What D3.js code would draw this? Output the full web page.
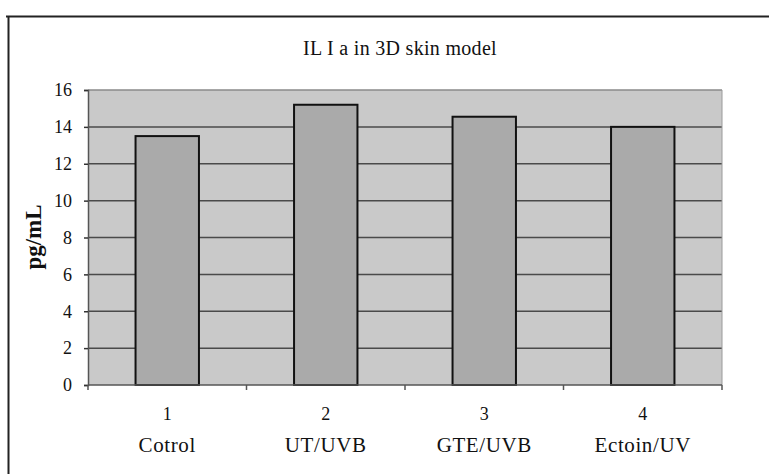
<!DOCTYPE html>
<html>
<head>
<meta charset="utf-8">
<script src="https://cdn.jsdelivr.net/npm/d3@7"></script>
<style>
  body { margin: 0; background: #fff; }
  svg text { font-family: "Liberation Serif", "Times New Roman", serif; fill: #111; }
</style>
</head>
<body>
<script>
// chart values
var groups = ["1", "2", "3", "4"];
var groupNames = ["Cotrol", "UT/UVB", "GTE/UVB", "Ectoin/UV"];
var values = [13.5, 15.2, 14.55, 14.0];
var yTicks = [0, 2, 4, 6, 8, 10, 12, 14, 16];

var width = 769, height = 475;
var plot = {left: 88, right: 722, top: 90, bottom: 385};

var svg = d3.select("body").append("svg")
    .attr("width", width)
    .attr("height", height);

// outer frame (top and left edges only show)
svg.append("line")
    .attr("x1", 6).attr("x2", width).attr("y1", 16.5).attr("y2", 16.5)
    .attr("stroke", "#222").attr("stroke-width", 2);
svg.append("line")
    .attr("x1", 8.5).attr("x2", 8.5).attr("y1", 16).attr("y2", 474)
    .attr("stroke", "#222").attr("stroke-width", 2);

var x = d3.scaleBand()
    .domain(groups)
    .range([plot.left, plot.right])
    .paddingInner(0.6)
    .paddingOuter(0.3);

var xStep = d3.scaleBand().domain(groups).range([plot.left, plot.right]);

var y = d3.scaleLinear()
    .domain([0, 16])
    .range([plot.bottom, plot.top]);

// plot background
svg.append("rect")
    .attr("x", plot.left).attr("y", plot.top)
    .attr("width", plot.right - plot.left).attr("height", plot.bottom - plot.top)
    .attr("fill", "#c9c9c9");

// gridlines
svg.selectAll(".grid")
    .data(yTicks.filter(function(d) { return d > 0; }))
    .enter().append("line")
    .attr("class", "grid")
    .attr("x1", plot.left).attr("x2", plot.right)
    .attr("y1", function(d) { return y(d); })
    .attr("y2", function(d) { return y(d); })
    .attr("stroke", function(d) { return d === 16 ? "#8a8a8a" : "#4a4a4a"; })
    .attr("stroke-width", 1.5);

// right edge of plot area
svg.append("line")
    .attr("x1", plot.right).attr("x2", plot.right)
    .attr("y1", plot.top).attr("y2", plot.bottom)
    .attr("stroke", "#9a9a9a").attr("stroke-width", 1);

// bars
svg.selectAll(".bar")
    .data(values)
    .enter().append("rect")
    .attr("class", "bar")
    .attr("x", function(d, i) { return x(groups[i]); })
    .attr("y", function(d) { return y(d); })
    .attr("width", x.bandwidth())
    .attr("height", function(d) { return y(0) - y(d); })
    .attr("fill", "#aaaaaa")
    .attr("stroke", "#111")
    .attr("stroke-width", 2);

// y axis
var yAxis = svg.append("g")
    .attr("transform", "translate(" + plot.left + ",0)")
    .call(d3.axisLeft(y).tickValues(yTicks).tickSize(4).tickPadding(12));
yAxis.select(".domain").attr("stroke", "#555").attr("stroke-width", 1.5);
yAxis.selectAll(".tick line").attr("stroke", "#333").attr("stroke-width", 1.5);
yAxis.selectAll("text")
    .style("font-family", "'Liberation Serif', serif")
    .style("font-size", "18px").attr("fill", "#111");

// x axis
var xAxis = svg.append("g")
    .attr("transform", "translate(0," + plot.bottom + ")");
xAxis.append("line")
    .attr("x1", plot.left).attr("x2", plot.right)
    .attr("stroke", "#555").attr("stroke-width", 1.5);
xAxis.selectAll(".xtick")
    .data(groups.concat(["end"]))
    .enter().append("line")
    .attr("class", "xtick")
    .attr("x1", function(d, i) { return plot.left + i * xStep.step(); })
    .attr("x2", function(d, i) { return plot.left + i * xStep.step(); })
    .attr("y1", 0).attr("y2", 5)
    .attr("stroke", "#555").attr("stroke-width", 1.5);

svg.selectAll(".xnum")
    .data(groups)
    .enter().append("text")
    .attr("class", "xnum")
    .attr("x", function(d) { return x(d) + x.bandwidth() / 2; })
    .attr("y", 420)
    .attr("text-anchor", "middle")
    .style("font-size", "18px")
    .text(function(d) { return d; });

svg.selectAll(".xname")
    .data(groupNames)
    .enter().append("text")
    .attr("class", "xname")
    .attr("x", function(d, i) { return x(groups[i]) + x.bandwidth() / 2; })
    .attr("y", 452)
    .attr("text-anchor", "middle")
    .style("font-size", "21px")
    .style("letter-spacing", "0.6px")
    .text(function(d) { return d; });

// title
svg.append("text")
    .attr("x", 400).attr("y", 55)
    .attr("text-anchor", "middle")
    .style("font-size", "20px")
    .style("letter-spacing", "0.3px")
    .text("IL I a in 3D skin model");

// y label
svg.append("text")
    .attr("transform", "translate(41,237) rotate(-90)")
    .attr("text-anchor", "middle")
    .style("font-size", "23px")
    .style("font-weight", "bold")
    .text("pg/mL");
</script>
</body>
</html>
